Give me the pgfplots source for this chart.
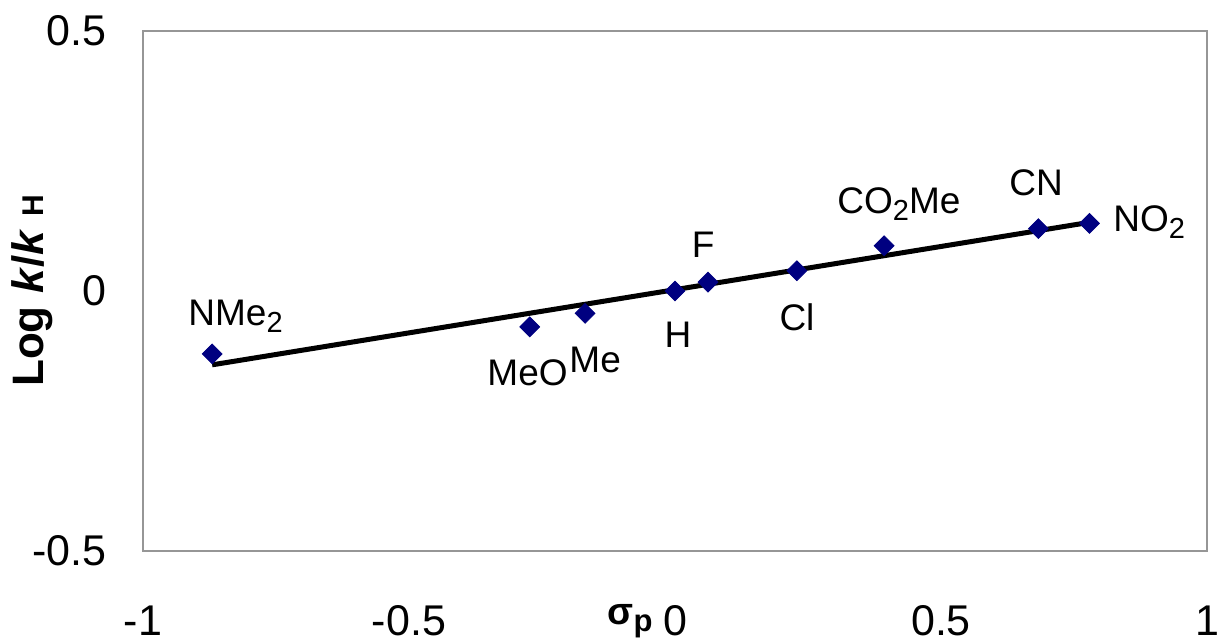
\documentclass[border=0pt]{standalone}
\usepackage{fontspec}
\setmainfont{Liberation Sans}
\usepackage{pgfplots}
\pgfplotsset{compat=1.18}
\usetikzlibrary{calc}
\definecolor{markblue}{RGB}{0,0,128}
\definecolor{framegray}{RGB}{150,150,150}
\tikzset{lbl/.style={inner sep=0pt, font=\fontsize{18.5}{22}\selectfont}}
\newcommand{\sub}[1]{\raisebox{-3.5pt}{\fontsize{14.5}{17}\selectfont #1}}

\begin{document}
\begin{tikzpicture}
\begin{axis}[
  name=ax,
  scale only axis,
  width=532pt, height=260pt,
  xmin=-1, xmax=1, ymin=-0.5, ymax=0.5,
  xtick={-1,-0.5,0,0.5,1},
  ytick={-0.5,0,0.5},
  major tick length=0pt,
  axis line style={framegray, line width=1.35pt},
  clip=false,
  /pgf/number format/assume math mode=true,
  tick label style={font=\fontsize{21.5}{25}\selectfont},
  xticklabel style={anchor=base, inner sep=0pt, yshift=-42pt},
  yticklabel style={anchor=east, inner sep=0pt, xshift=-18pt},
  xlabel={\bfseries σ\raisebox{-3.3pt}{\fontsize{15.5}{18}\selectfont p}},
  xlabel style={at={(axis description cs:0.4793,0)}, anchor=base east,
    inner sep=0pt, yshift=-37pt, font=\fontsize{19}{22}\selectfont},
  ylabel={\bfseries Log \textit{k}/\textit{k} {\fontsize{15}{18}\selectfont H}},
  ylabel style={at={(axis description cs:-0.1043,0.5)}, anchor=center,
    font=\fontsize{22}{26}\selectfont},
]
% substituent constants vs. log k/kH
\addplot[only marks, mark=square*, mark size=3.5pt, markblue,
  mark options={rotate=45}] coordinates {
  (-0.870,-0.121) (-0.273,-0.069) (-0.169,-0.043) (0.000,0.000)
  (0.062,0.017) (0.229,0.039) (0.393,0.087) (0.683,0.120) (0.779,0.130)
};
% linear fit
\addplot[black, line width=2.5pt] coordinates {(-0.870,-0.142) (0.779,0.132)};

\node[lbl, anchor=base west] at (axis cs:-0.9154,-0.0654) {NMe\sub{2}};
\node[lbl, anchor=base west] at (axis cs:-0.3533,-0.1808) {MeO};
\node[lbl, anchor=base west] at (axis cs:-0.1992,-0.1558) {Me};
\node[lbl, anchor=base] at (axis cs:0.0056,-0.1096) {H};
\node[lbl, anchor=base] at (axis cs:0.0530,0.0635) {F};
\node[lbl, anchor=base] at (axis cs:0.2293,-0.0769) {Cl};
\node[lbl, anchor=base west] at (axis cs:0.3045,0.1500) {CO\sub{2}Me};
\node[lbl, anchor=base] at (axis cs:0.6786,0.1846) {CN};
\node[lbl, anchor=base west] at (axis cs:0.8233,0.1135) {NO\sub{2}};
\end{axis}
\pgfresetboundingbox
\path ($(ax.south west)+(-71.5pt,-45pt)$) rectangle ($(ax.north east)+(6pt,15.5pt)$);
\end{tikzpicture}
\end{document}
